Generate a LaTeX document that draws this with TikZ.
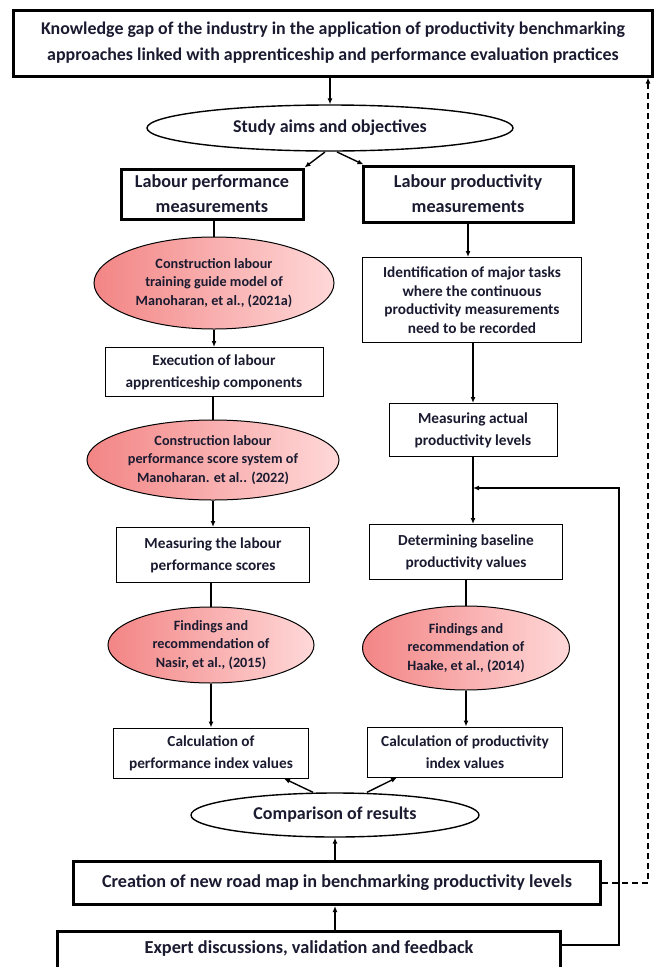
\documentclass[tikz,border=0pt]{standalone}
\usepackage{fontspec}
\setmainfont{Carlito}
\usetikzlibrary{shapes.geometric,arrows.meta}
\definecolor{txt}{HTML}{1A1A30}
\definecolor{pinkd}{HTML}{F38585}
\definecolor{pinkl}{HTML}{FFD8D8}
\tikzset{
  thickbox/.style={draw, line width=3pt, fill=white, align=center, text=txt, font=\bfseries},
  thinbox/.style={draw, line width=1pt, fill=white, align=center, text=txt, font=\bfseries\fontsize{15.3}{22}\selectfont},
  oval/.style={ellipse, draw, line width=1.4pt, fill=white, align=center, text=txt, font=\bfseries, inner sep=-10pt},
  pinkoval/.style={ellipse, draw, line width=1pt, left color=pinkd, right color=pinkl, align=center, text=txt, font=\bfseries\fontsize{14.2}{18.5}\selectfont, inner sep=-12pt},
  arr/.style={line width=1.4pt, -{Latex[length=6pt,width=5pt]}},
  ln/.style={line width=1.2pt},
}
\begin{document}
\begin{tikzpicture}[x=1pt,y=-1pt]
\useasboundingbox (0,0) rectangle (659,967);
\clip (0,0) rectangle (659,967);
% top
\node[thickbox, minimum width=639pt, minimum height=66pt, font=\bfseries\fontsize{17.9}{26}\selectfont] (gap) at (333,43)
 {Knowledge gap of the industry in the application of productivity benchmarking\\approaches linked with apprenticeship and performance evaluation practices};
\node[oval, minimum width=366pt, minimum height=46pt, font=\bfseries\fontsize{18}{20}\selectfont] (aims) at (330,128) {Study aims and objectives};
% left column
\node[thickbox, minimum width=182pt, minimum height=50pt, font=\bfseries\fontsize{18.2}{25}\selectfont] (lpm) at (212,194) {Labour performance\\measurements};
\node[pinkoval, minimum width=240pt, minimum height=92pt] (e1) at (214,283) {Construction labour\\training guide model of\\Manoharan, et al., (2021a)};
\node[thinbox, minimum width=218pt, minimum height=49pt] (exe) at (214,372) {Execution of labour\\apprenticeship components};
\node[pinkoval, minimum width=252pt, minimum height=80pt] (e2) at (213,460) {Construction labour\\performance score system of\\Manoharan. et al.. (2022)};
\node[thinbox, minimum width=193pt, minimum height=55pt] (mls) at (213,555) {Measuring the labour\\performance scores};
\node[pinkoval, minimum width=206pt, minimum height=76pt] (e3) at (211,645) {Findings and\\recommendation of\\Nasir, et al., (2015)};
\node[thinbox, minimum width=195pt, minimum height=50pt] (cpi) at (211,753) {Calculation of\\performance index values};
% right column
\node[thickbox, minimum width=210pt, minimum height=56pt, font=\bfseries\fontsize{18.2}{25}\selectfont] (lpr) at (468,194) {Labour productivity\\measurements};
\node[thinbox, minimum width=219pt, minimum height=85pt, font=\bfseries\fontsize{15.3}{18.5}\selectfont] (idt) at (472,300) {Identification of major tasks\\where the continuous\\productivity measurements\\need to be recorded};
\node[thinbox, minimum width=168pt, minimum height=53pt] (map) at (473,430) {Measuring actual\\productivity levels};
\node[thinbox, minimum width=193pt, minimum height=55pt] (det) at (466,552) {Determining baseline\\productivity values};
\node[pinkoval, minimum width=207pt, minimum height=84pt] (e4) at (466,648) {Findings and\\recommendation of\\Haake, et al., (2014)};
\node[thinbox, minimum width=195pt, minimum height=50pt] (cpv) at (465,752) {Calculation of productivity\\index values};
% bottom
\node[oval, minimum width=288pt, minimum height=44pt, font=\bfseries\fontsize{18}{20}\selectfont] (cmp) at (335,815) {Comparison of results};
\node[thickbox, minimum width=527pt, minimum height=43pt, font=\bfseries\fontsize{18.2}{20}\selectfont] (road) at (337,883) {Creation of new road map in benchmarking productivity levels};
\node[thickbox, minimum width=503pt, minimum height=50pt, font=\bfseries\fontsize{18.3}{20}\selectfont, anchor=north, text depth=18pt] (exp) at (309,930) {Expert discussions, validation and feedback};
% connectors
\draw[arr] (gap.south -| aims.north) -- (aims.north);
\coordinate (splitL) at (325,152);
\coordinate (splitR) at (337,152);
\draw[arr] (splitL) -- (lpm.north east);
\draw[arr] (splitR) -- ([xshift=2pt]lpr.north west);
\draw[ln] (e1.north |- lpm.south) -- (e1.north);
\draw[arr] (e1.south) -- (e1.south |- exe.north);
\draw[ln] (e2.north |- exe.south) -- (e2.north);
\draw[arr] (e2.south) -- (e2.south |- mls.north);
\draw[ln] (e3.north |- mls.south) -- (e3.north);
\draw[arr] (e3.south) -- (e3.south |- cpi.north);
\draw[arr] (lpr.south) -- (lpr.south |- idt.north);
\draw[arr] (idt.south -| map.north) -- (map.north);
\draw[arr] (map.south) -- (map.south |- det.north);
\draw[ln] (e4.north |- det.south) -- (e4.north);
\draw[arr] (e4.south) -- (e4.south |- cpv.north);
\draw[arr] ([xshift=-22pt]cmp.north) -- ([xshift=-25pt]cpi.south east);
\draw[arr] ([xshift=32pt]cmp.north) -- ([xshift=30pt]cpv.south west);
\draw[arr] (road.north -| cmp.south) -- (cmp.south);
\draw[arr] (exp.north -| cmp.south) -- (road.south -| cmp.south);
\coordinate (fbR) at (619,945);
\coordinate (fbT) at (619,488);
\coordinate (fbE) at (473,488);
\draw[arr] (exp.east |- fbR) -- (fbR) -- (fbT) -- (fbE);
\coordinate (dR) at (648,883);
\draw[arr, dashed, dash pattern=on 6pt off 4pt] (road.east) -- (dR) -- (dR |- gap.south);
\end{tikzpicture}
\end{document}
